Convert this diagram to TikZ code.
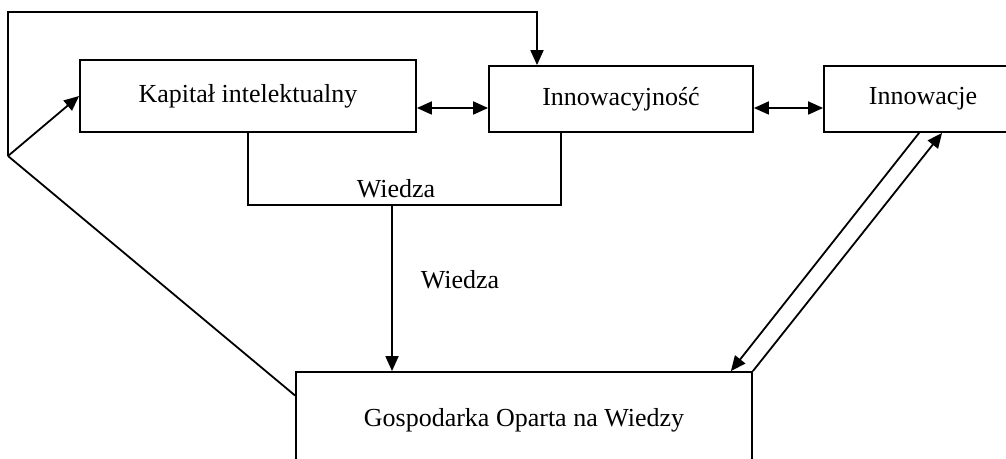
\documentclass[tikz,border=0pt]{standalone}
\usepackage{fontspec}
\setmainfont{Liberation Serif}
\usetikzlibrary{arrows.meta, positioning, calc}

\begin{document}
\begin{tikzpicture}[>={Triangle[length=7.5pt,width=6.5pt]}, x=0.5pt, y=-0.5pt, line width=0.9pt,
    box/.style={draw, inner sep=0pt, font=\fontsize{13}{15}\selectfont},
    lbl/.style={inner sep=0pt, font=\fontsize{13}{15}\selectfont}]
        \useasboundingbox (0,0) rectangle (1006,459);
        \clip (0,0) rectangle (1006,459);

        % Draw boxes
        \node[box, minimum width=168pt, minimum height=36pt] (kap) at (248,96) {Kapitał intelektualny};
        \node[box, minimum width=132pt, minimum height=33pt] (innow) at (621,99) {Innowacyjność};
        \node[box, minimum width=99pt, minimum height=33pt] (inno) at (923,99) {Innowacje};
        \node[box, minimum width=228pt, minimum height=48pt] (gosp) at (524,420) {Gospodarka Oparta na Wiedzy};

        % Feedback loop on the left
        \coordinate (fork) at (8,156);
        \coordinate (top) at (537,12);
        \draw[->] (fork) -- (kap.west);
        \draw (fork) -- ($(gosp.north west)!0.25!(gosp.south west)$);
        \draw[->] (fork) |- (top) -- (top |- innow.north);

        % Links between the top boxes
        \path (kap.east) ++(0,12) coordinate (k1);
        \draw[<->] (k1) -- (k1 -| innow.west);
        \path (innow.east) ++(0,9) coordinate (i1);
        \draw[<->] (i1) -- (i1 -| inno.west);

        % Knowledge
        \draw (kap.south) -- ++(0,72) coordinate (w0) -| ($(innow.south west)!0.273!(innow.south east)$);
        \node[lbl] (w1) at (396,189) {Wiedza};
        \coordinate (w) at (392,204);
        \draw[->] (w) -- (w |- gosp.north) node[lbl, pos=0.45, right=14pt] (w2) {Wiedza};

        % Innovations and the economy
        \draw[->] ([xshift=48pt]inno.south west) -- ([xshift=-11pt]gosp.north east);
        \draw[->] (gosp.north east) -- ([xshift=59.5pt]inno.south west);
\end{tikzpicture}
\end{document}
